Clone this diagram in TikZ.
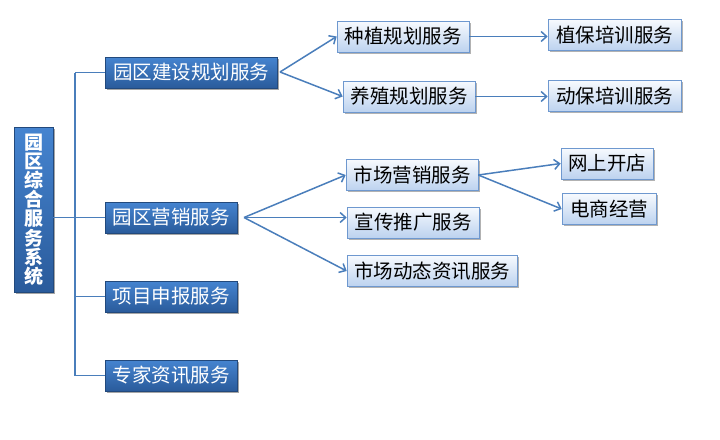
\documentclass[tikz,border=0pt]{standalone}
\usepackage{fontspec}
\newfontfamily\cjk{Noto Sans CJK SC}
\usetikzlibrary{arrows.meta,shadows}
\definecolor{linec}{HTML}{4A7EBB}
\definecolor{darktop}{HTML}{4584D0}
\definecolor{darkbot}{HTML}{2A5B9B}
\definecolor{lighttop}{HTML}{F7FAFE}
\definecolor{lightbot}{HTML}{BCD2EF}
\definecolor{lightborder}{HTML}{6E98CF}
\tikzset{
  x=1pt, y=-1pt,
  darkbox/.style={rectangle, inner sep=0pt, minimum height=31pt, text=white,
    top color=darktop, bottom color=darkbot, draw=darkbot!80!black, line width=0.3pt,
    font=\cjk\fontsize{19.5}{20}\selectfont,
    drop shadow={shadow xshift=1.5pt, shadow yshift=-1.8pt, opacity=0.35, fill=black}},
  lightbox/.style={rectangle, inner sep=0pt, minimum height=31pt, text=black,
    top color=lighttop, bottom color=lightbot, draw=lightborder, line width=0.6pt,
    font=\cjk\fontsize{19.5}{20}\selectfont,
    drop shadow={shadow xshift=1.5pt, shadow yshift=-1.8pt, opacity=0.3, fill=black}},
  conn/.style={draw=linec, line width=1.9pt},
  arr/.style={draw=linec, line width=1.5pt, -{Straight Barb[length=5.5pt,width=10pt,line width=1.5pt]}},
}
\begin{document}
\begin{tikzpicture}
\useasboundingbox (0,0) rectangle (720,439);
% root
\node[darkbox, minimum width=39pt, minimum height=165pt, align=center,
  font=\cjk\bfseries\fontsize{19}{19.2}\selectfont] (root) at (33.5,209.5)
  {园\\区\\综\\合\\服\\务\\系\\统};
% level 1
\node[darkbox, minimum width=172pt] (b1) at (191,72.5) {园区建设规划服务};
\node[darkbox, minimum width=132pt] (b2) at (171,217.5) {园区营销服务};
\node[darkbox, minimum width=132pt] (b3) at (171,296.5) {项目申报服务};
\node[darkbox, minimum width=132pt] (b4) at (171,375.5) {专家资讯服务};
% level 2
\node[lightbox, minimum width=132pt] (c1) at (403,36.5) {种植规划服务};
\node[lightbox, minimum width=132pt] (c2) at (409,96.5) {养殖规划服务};
\node[lightbox, minimum width=133pt] (d1) at (614.5,35) {植保培训服务};
\node[lightbox, minimum width=133pt] (d2) at (614.5,96) {动保培训服务};
\node[lightbox, minimum width=132pt] (c3) at (412,175) {市场营销服务};
\node[lightbox, minimum width=132pt] (c4) at (413,222.5) {宣传推广服务};
\node[lightbox, minimum width=170pt] (c5) at (432,271) {市场动态资讯服务};
\node[lightbox, minimum width=92pt] (e1) at (607,163.5) {网上开店};
\node[lightbox, minimum width=94pt] (e2) at (609,209) {电商经营};
% trunk
\coordinate (t) at (75,0);
\draw[conn] (t |- b1) -- (t |- b4) -- (b4.west);
\draw[conn] (t |- b1) -- (b1.west);
\draw[conn] (t |- b3) -- (b3.west);
\draw[conn] (root.east |- b2) -- (b2.west);
% fans
\coordinate (f1) at (280,72);
\draw[arr] (f1) -- (c1.west);
\draw[arr] (f1) -- (c2.west);
\draw[arr] (c1.east) -- (d1.west |- c1.east);
\draw[arr] (c2.east) -- (d2.west |- c2.east);
\coordinate (f2) at (244,217.5);
\draw[arr] (f2) -- (c3.west);
\draw[arr] (f2) -- (c4.west |- f2);
\draw[arr] (f2) -- (c5.west);
\draw[arr] (c3.east) -- (e1.west);
\draw[arr] (c3.east) -- (e2.west);
\end{tikzpicture}
\end{document}
